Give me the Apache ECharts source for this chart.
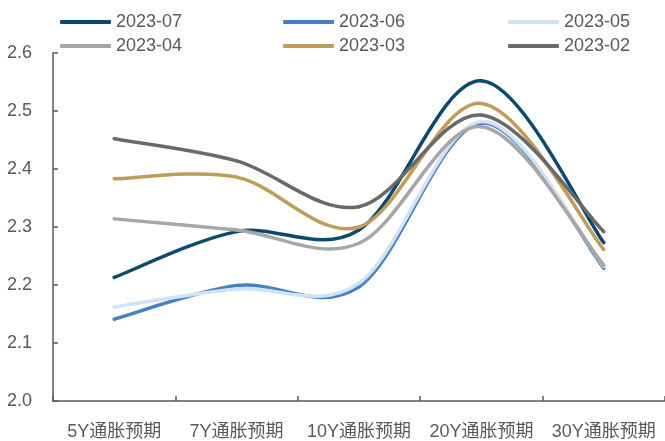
<!DOCTYPE html>
<html>
<head>
<meta charset="utf-8">
<script src="https://cdn.jsdelivr.net/npm/echarts@6/dist/echarts.min.js"></script>
<style>
  html, body { margin: 0; padding: 0; background: #ffffff; }
  #chart { width: 665px; height: 441px; }
</style>
</head>
<body>
<div id="chart"></div>
<script>
// Inflation expectations by tenor, monthly snapshots
const categories = ['5Y通胀预期', '7Y通胀预期', '10Y通胀预期', '20Y通胀预期', '30Y通胀预期'];
const yTicks = [2.0, 2.1, 2.2, 2.3, 2.4, 2.5, 2.6];

const s202307 = [2.213, 2.292, 2.295, 2.552, 2.273];
const s202306 = [2.141, 2.199, 2.197, 2.479, 2.229];
const s202305 = [2.162, 2.193, 2.203, 2.482, 2.232];
const s202304 = [2.314, 2.295, 2.272, 2.473, 2.234];
const s202303 = [2.383, 2.386, 2.300, 2.513, 2.261];
const s202302 = [2.452, 2.414, 2.335, 2.493, 2.292];

const seriesNames = ['2023-07', '2023-06', '2023-05', '2023-04', '2023-03', '2023-02'];
const seriesData = [s202307, s202306, s202305, s202304, s202303, s202302];
const colors = ['#0b4a6e', '#4580c3', '#cfe3f4', '#a6a6a6', '#c09c58', '#696969'];

const textColor = '#595959';
const axisColor = '#595959';

// legend laid out as a 3 x 2 grid
const legendLeft = [55, 278, 503];
const legendTop = [7, 31];
const legends = seriesNames.map((name, i) => ({
  data: [name],
  left: legendLeft[i % 3],
  top: legendTop[Math.floor(i / 3)],
  icon: 'roundRect',
  itemWidth: 51,
  itemHeight: 4,
  itemGap: 6,
  textStyle: { color: textColor, fontSize: 18, fontFamily: 'Liberation Sans', lineHeight: 20 }
}));

// Smooth curve through the points: each segment is a cubic Bezier whose
// control points follow the Catmull-Rom tangents of the neighbouring points.
function smoothSegment(color) {
  return function (params, api) {
    const i = params.dataIndexInside;
    const n = params.dataInsideLength;
    if (i >= n - 1) return null;
    const pt = k => api.coord([api.value(0, k), api.value(1, k)]);
    const p1 = pt(i);
    const p2 = pt(i + 1);
    const p0 = i > 0 ? pt(i - 1) : p1;
    const p3 = i + 2 < n ? pt(i + 2) : p2;
    return {
      type: 'bezierCurve',
      shape: {
        x1: p1[0], y1: p1[1],
        x2: p2[0], y2: p2[1],
        cpx1: p1[0] + (p2[0] - p0[0]) / 6,
        cpy1: p1[1] + (p2[1] - p0[1]) / 6,
        cpx2: p2[0] - (p3[0] - p1[0]) / 6,
        cpy2: p2[1] - (p3[1] - p1[1]) / 6
      },
      style: { stroke: color, lineWidth: 3.5, fill: null, lineCap: 'round' }
    };
  };
}

const chart = echarts.init(document.getElementById('chart'), null, { renderer: 'canvas' });
chart.setOption({
  animation: false,
  backgroundColor: '#ffffff',
  legend: legends,
  grid: { left: 53, right: 0, top: 53, bottom: 40, containLabel: false },
  xAxis: {
    type: 'category',
    data: categories,
    boundaryGap: true,
    axisLine: { lineStyle: { color: axisColor, width: 1.5 } },
    axisTick: { show: true, inside: true, length: 5, interval: 0, lineStyle: { color: axisColor, width: 1.5 } },
    axisLabel: {
      color: textColor, fontSize: 18, margin: 22, interval: 0,
      fontFamily: 'Liberation Sans, Noto Sans CJK SC'
    },
    splitLine: { show: false }
  },
  yAxis: {
    type: 'value',
    min: yTicks[0],
    max: yTicks[yTicks.length - 1],
    interval: 0.1,
    axisLine: { show: true, lineStyle: { color: axisColor, width: 1.5 } },
    axisTick: { show: true, inside: true, length: 5, lineStyle: { color: axisColor, width: 1.5 } },
    axisLabel: {
      color: textColor, fontSize: 18, margin: 21, fontFamily: 'Liberation Sans',
      formatter: v => v.toFixed(1)
    },
    splitLine: { show: false }
  },
  series: seriesNames.map((name, i) => ({
    name: name,
    type: 'custom',
    data: seriesData[i].map((v, k) => [k, v]),
    encode: { x: 0, y: 1 },
    itemStyle: { color: colors[i] },
    renderItem: smoothSegment(colors[i])
  }))
});
</script>
</body>
</html>
